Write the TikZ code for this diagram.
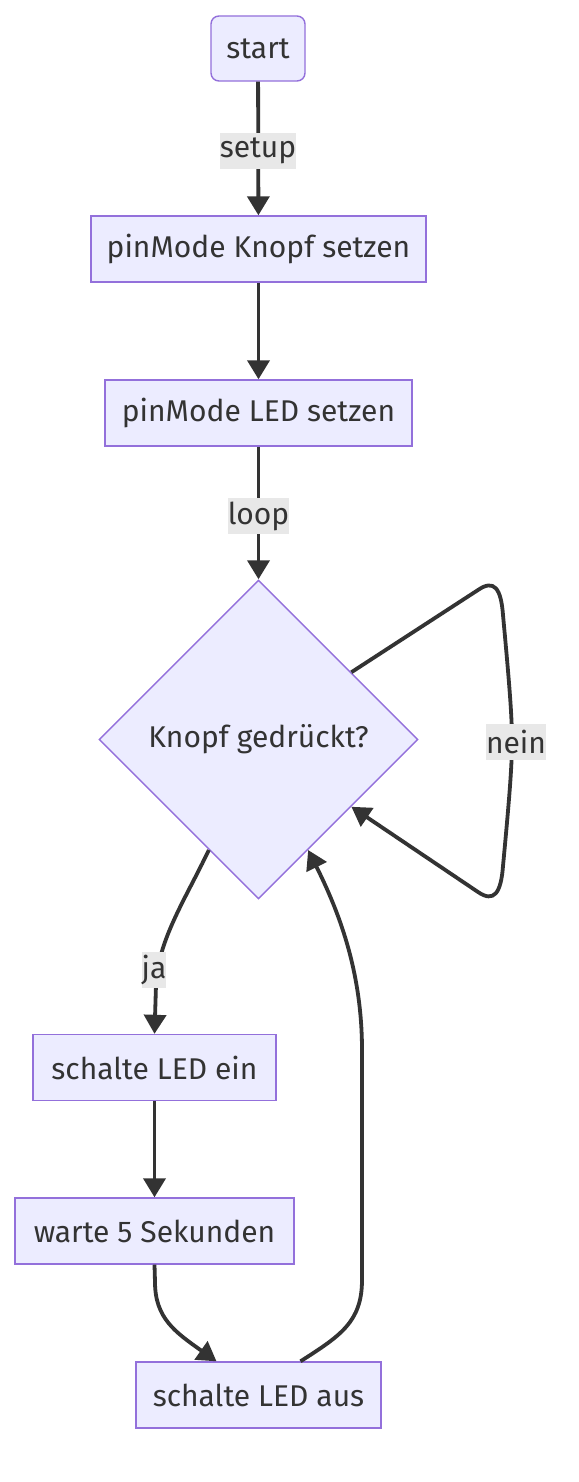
\documentclass[tikz,border=0pt]{standalone}
\usepackage{fontspec}
\setmainfont{Fira Sans}
\usetikzlibrary{shapes.geometric,arrows.meta,calc}
\definecolor{nodefill}{HTML}{ECECFF}
\definecolor{nodestroke}{HTML}{9370DB}
\definecolor{edgecol}{HTML}{333333}
\definecolor{lblbg}{HTML}{E8E8E8}
\tikzset{
  box/.style={draw=nodestroke,fill=nodefill,line width=1.4pt,rectangle,inner sep=0pt,minimum height=66pt,text=edgecol,font=\fontsize{30}{36}\selectfont},
  decision/.style={draw=nodestroke,fill=nodefill,line width=1.4pt,diamond,aspect=1,inner sep=0pt,minimum width=319pt,minimum height=319pt,text=edgecol,font=\fontsize{30}{36}\selectfont},
  edge/.style={draw=edgecol,line width=3.8pt,-{Triangle[length=19pt,width=22pt]}},
  lbl/.style={fill=lblbg,text=edgecol,inner xsep=0pt,inner ysep=0pt,minimum height=36pt,font=\fontsize{30}{36}\selectfont}
}
\begin{document}
\begin{tikzpicture}[x=1pt,y=-1pt]
\useasboundingbox[fill=white] (0,0) rectangle (578,1482);
\node[box,rounded corners=8pt,minimum width=94pt,minimum height=65pt] (start) at (258,48.5) {start};
\node[box,minimum width=335pt] (knopf) at (258.5,249) {pinMode Knopf setzen};
\node[box,minimum width=307pt] (led) at (258.5,413) {pinMode LED setzen};
\node[decision] (dia) at (258.5,739.5) {Knopf gedrückt?};
\node[box,minimum width=243pt] (ein) at (154.5,1067.5) {schalte LED ein};
\node[box,minimum width=279pt] (warte) at (154.5,1231) {warte 5 Sekunden};
\node[box,minimum width=245pt] (aus) at (258.5,1395) {schalte LED aus};

\draw[edge] (start) -- (knopf);
\draw[edge] (knopf) -- (led);
\draw[edge] (led) -- (dia);
\draw[edge] (ein) -- (warte);

\coordinate (loopA) at ($(dia.north)!0.58!(dia.east)$);
\coordinate (loopB) at ($(dia.south)!0.58!(dia.east)$);
\draw[edge] (loopA) -- (478,590) .. controls (494,579) and (501,588) .. (503,615)
  .. controls (509,680) and (512,715) .. (512,741)
  .. controls (512,767) and (509,802) .. (503,866)
  .. controls (501,893) and (494,903) .. (478,892) -- (loopB);

\coordinate (jaA) at ($(dia.south)!0.31!(dia.west)$);
\draw[edge] (jaA) .. controls (185,900) and (158,940) .. (156,985) -- (ein.north);

\coordinate (ausL) at ($(aus.north)+(-42,0)$);
\coordinate (ausR) at ($(aus.north)+(42,0)$);
\coordinate (diaR) at ($(dia.south)!0.31!(dia.east)$);
\draw[edge] (warte.south) -- (155,1282) .. controls (155,1318) and (175,1332) .. (ausL);
\draw[edge] (ausR) .. controls (340,1336) and (362,1322) .. (362,1280) -- (362,1050)
  .. controls (362,970) and (338,910) .. (diaR);

\node[lbl] (lsetup) at (258,151) {setup};
\node[lbl] (lloop) at (258.5,516) {loop};
\node[lbl] (lnein) at (516,742) {nein};
\node[lbl] (lja) at (154,970) {ja};
\end{tikzpicture}
\end{document}
